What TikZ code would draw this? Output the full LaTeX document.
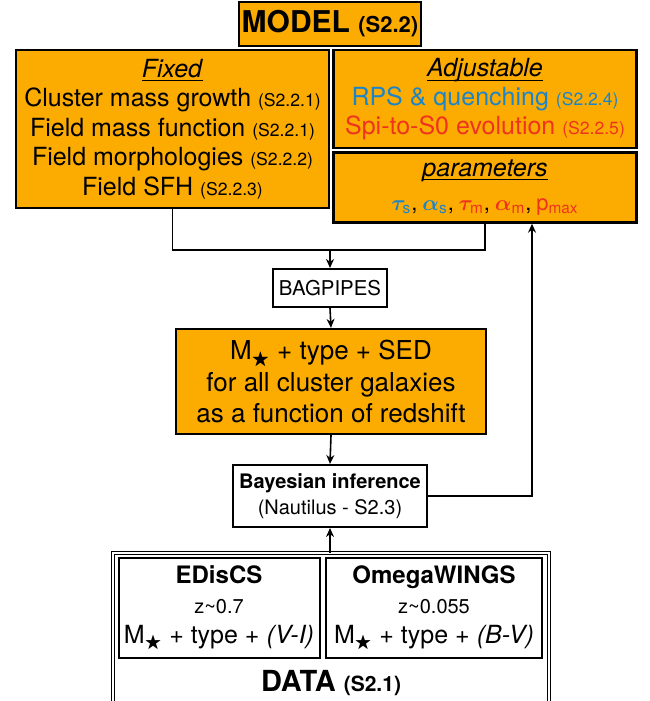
\documentclass[tikz,border=0pt]{standalone}
\usepackage{amsmath,amssymb,bm}
\usepackage{fontspec}
\setmainfont{TeX Gyre Heros}
\usetikzlibrary{arrows.meta,shadows}

\definecolor{boxorange}{RGB}{252,172,0}
\definecolor{rpsblue}{RGB}{30,132,200}
\definecolor{spired}{RGB}{238,52,30}

% section references, stellar mass and box headings
\newcommand{\secref}[2][8.8]{{\fontsize{#1}{#1}\selectfont(#2)}}
\newcommand{\Mstar}{M$_{\bigstar}$}
\newcommand{\boxhead}[1]{\underline{\smash[b]{\textit{#1}}}}
\newcommand{\pmsep}{,\hspace{0.22em}}

\tikzset{
  shade box/.style={drop shadow={shadow xshift=0.7pt,shadow yshift=-0.7pt,opacity=0.35}},
  orangebox/.style={draw,line width=1.2pt,fill=boxorange,align=center,inner sep=0pt,shade box},
  whitebox/.style={draw,line width=1pt,fill=white,align=center,inner sep=0pt,shade box},
  link/.style={line width=0.8pt},
  flow/.style={link,-{Stealth[length=4.5pt,width=4pt]}},
}

\begin{document}
\begin{tikzpicture}[x=0.5pt,y=-0.5pt]
\useasboundingbox (0,0) rectangle (649,701);

% model part
\node[orangebox,minimum width=91pt,minimum height=22pt,font=\fontsize{15}{17}\selectfont\bfseries] (model) at (330,24)
  {MODEL \secref[11]{S2.2}};
\node[orangebox,minimum width=156.5pt,minimum height=79pt,font=\fontsize{12.5}{14.7}\selectfont] (fixed) at (172.5,129)
  {\boxhead{Fixed}\\
   Cluster mass growth \secref{S2.2.1}\\
   Field mass function \secref{S2.2.1}\\
   Field morphologies \secref{S2.2.2}\\
   Field SFH \secref{S2.2.3}};
\node[orangebox,minimum width=151.5pt,minimum height=49pt,font=\fontsize{12.5}{14.4}\selectfont] (adjust) at (485,99)
  {\boxhead{Adjustable}\\
   \textcolor{rpsblue}{RPS \& quenching \secref{S2.2.4}}\\
   \textcolor{spired}{Spi-to-S0 evolution \secref{S2.2.5}}};
\node[orangebox,minimum width=151.5pt,minimum height=35pt,font=\fontsize{12.5}{17}\selectfont] (params) at (485,187.5)
  {\boxhead{parameters}\\
   {\fontsize{11}{13}\selectfont
   \textcolor{rpsblue}{$\bm{\tau}_{\text{s}}$}\pmsep\textcolor{rpsblue}{$\bm{\alpha}_{\text{s}}$}\pmsep
   \textcolor{spired}{$\bm{\tau}_{\text{m}}$}\pmsep\textcolor{spired}{$\bm{\alpha}_{\text{m}}$}\pmsep
   \textcolor{spired}{p$_{\text{max}}$}}};

% fitting chain
\node[whitebox,minimum width=57pt,minimum height=19pt,font=\fontsize{10.2}{12}\selectfont] (bagpipes) at (330,288) {BAGPIPES};
\node[orangebox,minimum width=155pt,minimum height=52.5pt,font=\fontsize{13}{15.6}\selectfont] (sed) at (331,381.5)
  {\Mstar{} + type + SED\\
   for all cluster galaxies\\
   as a function of redshift};
\node[whitebox,minimum width=97pt,minimum height=31pt,font=\fontsize{10}{12.8}\selectfont] (bayes) at (330,496)
  {\textbf{Bayesian inference}\\(Nautilus - S2.3)};

% data part
\node[draw,double,line width=0.5pt,double distance=0.9pt,fill=white,minimum width=218pt,minimum height=77pt] (data) at (331,630) {};
\node[whitebox,minimum width=100.5pt,minimum height=50pt,font=\fontsize{12.5}{15}\selectfont] (edis) at (219,608)
  {{\fontsize{12}{13}\selectfont\bfseries EDisCS}\\
   {\fontsize{10}{11}\selectfont z\char`\~0.7}\\
   \Mstar{} + type + \textit{(V-I)}};
\node[whitebox,minimum width=108pt,minimum height=50pt,font=\fontsize{12.5}{15}\selectfont] (omega) at (434,608)
  {{\fontsize{12}{13}\selectfont\bfseries OmegaWINGS}\\
   {\fontsize{10}{11}\selectfont z\char`\~0.055}\\
   \Mstar{} + type + \textit{(B-V)}};
\node[font=\fontsize{14.5}{16}\selectfont\bfseries] (datalbl) at (331,683) {DATA \secref[10.5]{S2.1}};

% connectors
\coordinate (join) at (330,250);
\coordinate (fb) at (532,0);
\draw[link] (fixed.south) |- (join) -| (params.south);
\draw[flow] (join) -- (bagpipes.north);
\draw[flow] (bagpipes.south) -- (sed.north);
\draw[flow] (sed.south) -- (bayes.north);
\draw[flow] (data.north -| bayes.south) -- (bayes.south);
\draw[flow] (bayes.east) -| (fb |- params.south);
\end{tikzpicture}
\end{document}
